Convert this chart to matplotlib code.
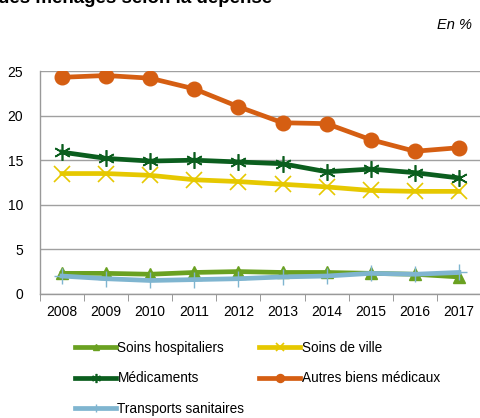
import matplotlib.pyplot as plt
import numpy as np

plt.rcParams['font.family'] = ['Liberation Sans', 'DejaVu Sans']

years = ['2008', '2009', '2010', '2011', '2012', '2013', '2014', '2015', '2016', '2017']
soins_hosp = [2.3, 2.3, 2.2, 2.4, 2.5, 2.4, 2.4, 2.3, 2.2, 1.9]
soins_ville = [13.5, 13.5, 13.3, 12.8, 12.6, 12.3, 12.0, 11.6, 11.5, 11.5]
medicaments = [15.9, 15.2, 14.9, 15.0, 14.8, 14.6, 13.7, 14.0, 13.6, 13.0]
autres_biens = [24.3, 24.5, 24.2, 23.0, 21.0, 19.2, 19.1, 17.3, 16.0, 16.4]
transports = [2.0, 1.7, 1.5, 1.6, 1.7, 1.9, 2.0, 2.3, 2.2, 2.4]

fig = plt.figure(figsize=(4.81, 4.18), dpi=100)
ax = fig.add_axes([0.083, 0.297, 0.917, 0.533])

x = np.arange(len(years))
lw = 3.4
h1, = ax.plot(x, soins_hosp, color='#6AA121', lw=lw, marker='^', ms=9, label='Soins hospitaliers')
h2, = ax.plot(x, soins_ville, color='#E6C800', lw=lw, marker='x', ms=11, mew=1.2, label='Soins de ville')
h3, = ax.plot(x, medicaments, color='#0B5E1E', lw=lw, marker=(6, 2, 0), ms=12, mew=1.2, label='Médicaments')
h4, = ax.plot(x, autres_biens, color='#D55E12', lw=lw, marker='o', ms=10.5, label='Autres biens médicaux')
h5, = ax.plot(x, transports, color='#7FB5D0', lw=lw, marker='+', ms=11, mew=1.0, label='Transports sanitaires')

ax.set_xlim(-0.5, len(years) - 0.5)
ax.set_ylim(0, 25)
ax.set_yticks([0, 5, 10, 15, 20, 25])
ax.set_xticks(x)
ax.set_xticklabels(years)
ax.set_xticks(np.arange(-0.5, len(years), 1), minor=True)
ax.tick_params(axis='x', which='major', length=0, labelsize=10, pad=8)
ax.tick_params(axis='x', which='minor', length=5, color='#888888', direction='out')
ax.tick_params(axis='y', length=0, labelsize=10, pad=12)
ax.yaxis.grid(True, color='#A0A0A0', lw=1)
ax.set_axisbelow(True)
for s in ['top', 'right']:
    ax.spines[s].set_visible(False)
for s in ['left', 'bottom']:
    ax.spines[s].set_color('#999999')
    ax.spines[s].set_linewidth(1)

fig.legend(handles=[h1, h3, h5, h2, h4], ncol=2, loc='upper left',
           bbox_to_anchor=(0.145, 0.197), frameon=False, fontsize=9.8,
           handlelength=3.0, handletextpad=0.1, columnspacing=1.1,
           labelspacing=1.2, borderaxespad=0, markerscale=0.55)

fig.text(-0.005, 1.024, 'des ménages selon la dépense', fontsize=13.5, fontweight='bold',
         ha='left', va='top')
fig.text(0.982, 0.958, 'En %', fontsize=10.5, style='italic', ha='right', va='top')

fig.savefig('out.png', dpi=100)
